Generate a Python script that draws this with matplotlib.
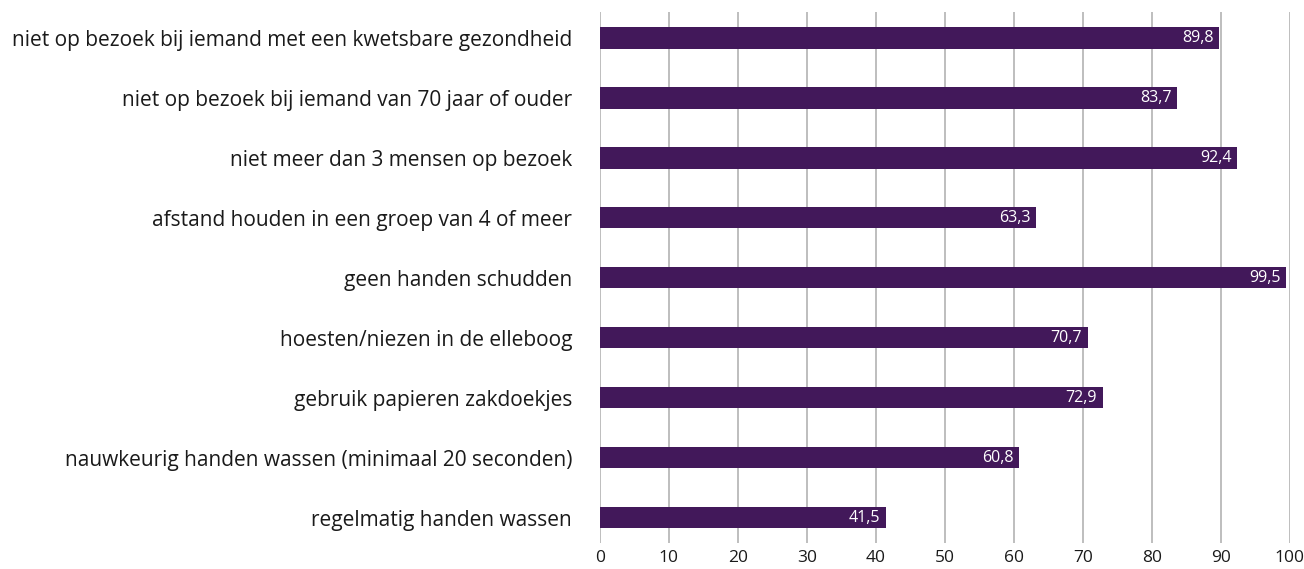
import numpy as np
import matplotlib.pyplot as plt

plt.rcParams['font.family'] = ['Open Sans', 'DejaVu Sans']

# gegevens
categorieen = [
    "niet op bezoek bij iemand met een kwetsbare gezondheid",
    "niet op bezoek bij iemand van 70 jaar of ouder",
    "niet meer dan 3 mensen op bezoek",
    "afstand houden in een groep van 4 of meer",
    "geen handen schudden",
    "hoesten/niezen in de elleboog",
    "gebruik papieren zakdoekjes",
    "nauwkeurig handen wassen (minimaal 20 seconden)",
    "regelmatig handen wassen",
]
waarden = [89.8, 83.7, 92.4, 63.3, 99.5, 70.7, 72.9, 60.8, 41.5]
x_ticks = [0, 10, 20, 30, 40, 50, 60, 70, 80, 90, 100]

kleur = '#42185a'

fig = plt.figure(figsize=(13.04, 5.69), dpi=100)
ax = fig.add_axes([0.460, 0.046, 0.529, 0.933])

y = np.arange(len(categorieen))
ax.barh(y, waarden, height=0.36, color=kleur, zorder=3)

for yi, v in zip(y, waarden):
    ax.text(v - 0.8, yi, f"{v:.1f}".replace('.', ','), color='white',
            ha='right', va='center', fontsize=11.5, zorder=4)

ax.set_yticks(y)
ax.set_yticklabels(categorieen, fontsize=15)
ax.set_xticks(x_ticks)
ax.set_xticklabels([str(t) for t in x_ticks], fontsize=12.5)
ax.set_xlim(0, 100)
ax.set_ylim(len(categorieen) - 1 + 0.42, -0.43)

ax.tick_params(axis='y', length=0, pad=20, colors='#1a1a1a')
ax.tick_params(axis='x', length=0, pad=5, colors='#1a1a1a')
ax.grid(axis='x', color='#b3b3b3', linewidth=1.2, zorder=0)
for s in ax.spines.values():
    s.set_visible(False)

fig.savefig('out.png', dpi=100)
